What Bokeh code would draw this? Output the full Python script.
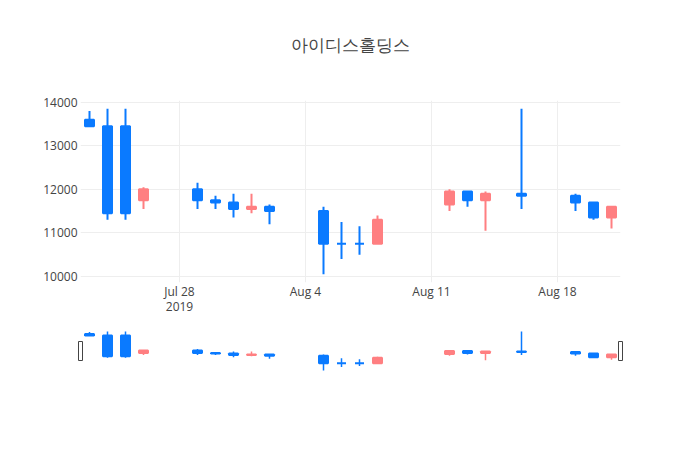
import pandas as pd
from bokeh.plotting import figure
from bokeh.models import Range1d, FixedTicker, ColumnDataSource
from bokeh.core.properties import value
from bokeh.layouts import column
from bokeh.embed import file_html
from bokeh.resources import INLINE

title_text = "아이디스홀딩스"
dates = ["2019-07-23", "2019-07-24", "2019-07-25", "2019-07-26", "2019-07-29",
         "2019-07-30", "2019-07-31", "2019-08-01", "2019-08-02", "2019-08-05",
         "2019-08-06", "2019-08-07", "2019-08-08", "2019-08-12", "2019-08-13",
         "2019-08-14", "2019-08-16", "2019-08-19", "2019-08-20", "2019-08-21"]
opens = [13600, 13450, 13450, 11750, 12000, 11750, 11700, 11550, 11600, 11500,
         10750, 10750, 10750, 11650, 11950, 11750, 11900, 11850, 11700, 11350]
highs = [13800, 13850, 13850, 12050, 12150, 11850, 11900, 11900, 11650, 11600,
         11250, 11150, 11400, 12000, 11950, 11950, 13850, 11900, 11700, 11600]
lows = [13450, 11300, 11300, 11550, 11550, 11550, 11350, 11450, 11200, 10050,
        10400, 10500, 10750, 11500, 11600, 11050, 11550, 11500, 11300, 11100]
closes = [13450, 11450, 11450, 12000, 11750, 11700, 11550, 11600, 11500, 10750,
          10750, 10750, 11300, 11950, 11750, 11900, 11850, 11700, 11350, 11600]
x_tick_dates = ["2019-07-28", "2019-08-04", "2019-08-11", "2019-08-18"]
x_tick_labels = ["Jul 28\n2019", "Aug 4", "Aug 11", "Aug 18"]
y_ticks = [10000, 11000, 12000, 13000, 14000]

INC = "#ff7f81"
DEC = "#0a7aff"
FONT = "Open Sans"
TXT = "#444444"

dt = pd.to_datetime(dates)
day = pd.Timedelta(days=1)
colors = [INC if c > o else DEC for o, c in zip(opens, closes)]
src = ColumnDataSource(dict(
    date=dt, open=opens, high=highs, low=lows, close=closes,
    top=[max(o, c) for o, c in zip(opens, closes)],
    bottom=[min(o, c) for o, c in zip(opens, closes)],
    color=colors))

x_start = dt[0] - day / 2
x_end = dt[-1] + day / 2
span = max(highs) - min(lows)
y_lo = min(lows) - 0.05 * span
y_hi = max(highs) + 0.05 * span
box_w = (day * 0.5).total_seconds() * 1000

# header with the title, centred over the plot area
h = figure(width=700, height=88, x_range=Range1d(x_start, x_end),
           y_range=Range1d(0, 1), x_axis_type=None, y_axis_type=None,
           output_backend="svg", toolbar_location=None,
           min_border_left=80, min_border_right=80, min_border_top=0,
           min_border_bottom=0)
h.frame_align = False
h.outline_line_color = None
title_x = (x_start + (x_end - x_start) / 2).value / 1e6
h.text(x=[title_x], y=[0.5], text=[title_text], text_align="center",
       text_baseline="middle", text_font=value(FONT), text_font_size="17px",
       text_color=TXT)

p = figure(width=700, height=234, x_axis_type="datetime",
           x_range=Range1d(x_start, x_end), y_range=Range1d(y_lo, y_hi),
           output_backend="svg", toolbar_location=None,
           min_border_left=80, min_border_right=80, min_border_top=12,
           min_border_bottom=40)
p.frame_align = False
p.outline_line_color = None

tick_ms = [pd.Timestamp(d).value / 1e6 for d in x_tick_dates]
p.xaxis.ticker = FixedTicker(ticks=tick_ms)
p.xaxis.major_label_overrides = {t: l for t, l in zip(tick_ms, x_tick_labels)}
p.yaxis.ticker = FixedTicker(ticks=y_ticks)
for ax in (p.xaxis, p.yaxis):
    ax.axis_line_color = None
    ax.major_tick_line_color = None
    ax.minor_tick_line_color = None
    ax.major_tick_out = 0
    ax.major_tick_in = 0
    ax.major_label_text_font = FONT
    ax.major_label_text_font_size = "12px"
    ax.major_label_text_color = TXT
p.yaxis.major_label_standoff = 3
p.xaxis.major_label_standoff = 0
p.xaxis.major_label_text_line_height = 0.9
p.grid.grid_line_color = "#eeeeee"
p.grid.grid_line_width = 1

p.segment(x0="date", y0="high", x1="date", y1="low", line_color="color",
          line_width=2, source=src)
p.vbar(x="date", width=box_w, top="top", bottom="bottom", fill_color="color",
       line_color="color", line_width=2, source=src)

pad = day / 3
s = figure(width=700, height=62, x_range=Range1d(x_start - pad, x_end + pad),
           y_range=Range1d(y_lo, y_hi), x_axis_type=None, y_axis_type=None,
           output_backend="svg", toolbar_location=None,
           min_border_left=74, min_border_right=74, min_border_top=7,
           min_border_bottom=12)
s.frame_align = False
s.outline_line_color = None
s.segment(x0="date", y0="high", x1="date", y1="low", line_color="color",
          line_width=1.5, source=src)
s.vbar(x="date", width=box_w, top="top", bottom="bottom", fill_color="color",
       line_color="color", line_width=2, source=src)
y_mid = (y_lo + y_hi) / 2
s.rect(x=[x_start, x_end], y=[y_mid, y_mid], width=4, height=19,
       width_units="screen", height_units="screen", fill_color="white",
       line_color="#444444", line_width=1)

layout = column(h, p, s)
open("out.html", "w").write(file_html(layout, INLINE))
